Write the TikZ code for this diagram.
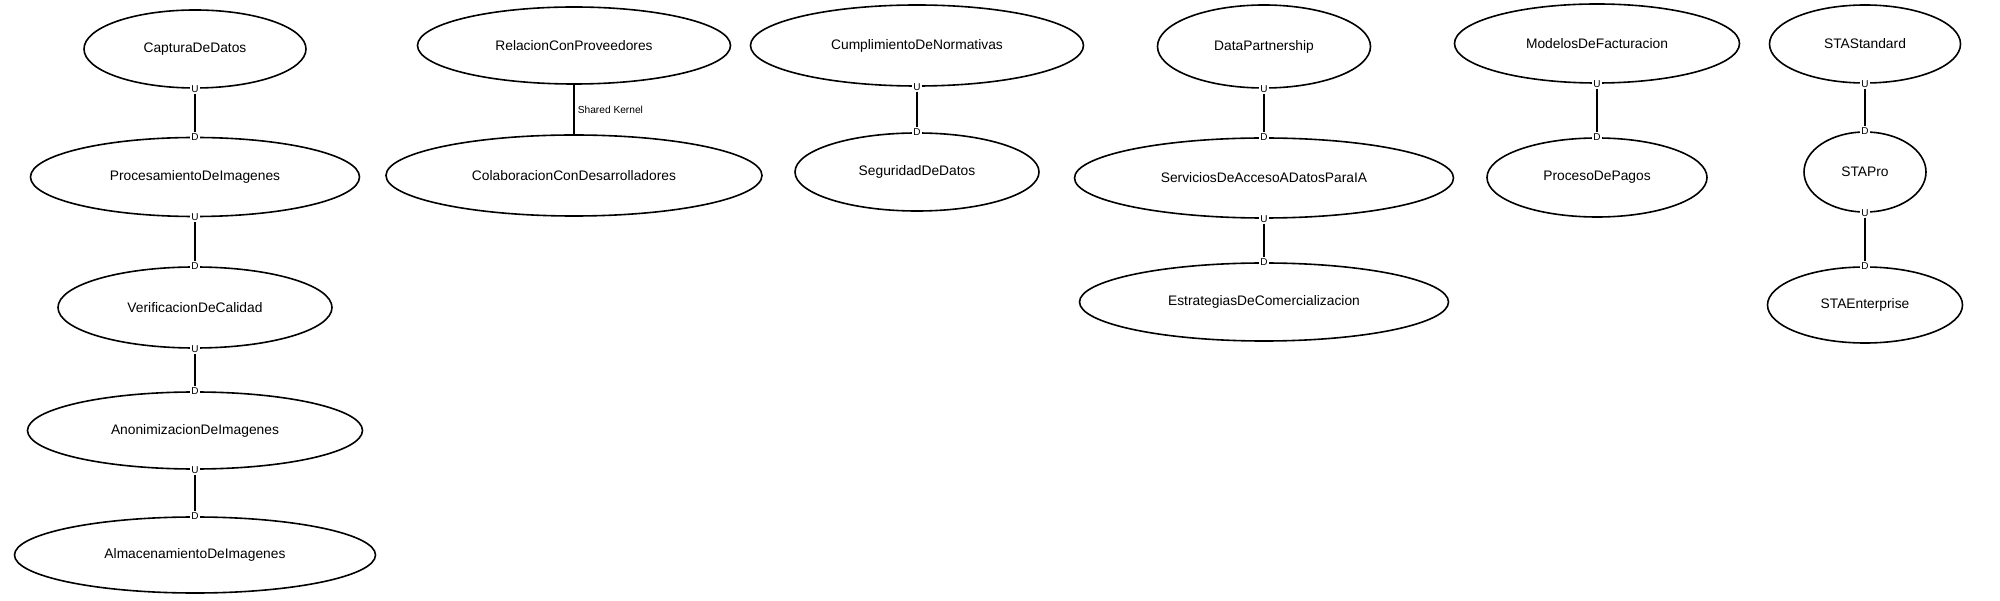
\documentclass[tikz,border=0pt]{standalone}
\usepackage{fontspec}
\setmainfont{Liberation Sans}
\usetikzlibrary{shapes.geometric}

\begin{document}
\begin{tikzpicture}[x=1pt,y=-1pt]

    \tikzset{context/.style = {shape=ellipse,draw,line width=1.6pt,inner sep=0pt,font=\fontsize{13.8}{16}\selectfont}}
    \tikzset{role/.style = {fill=white,inner sep=1.2pt,font=\fontsize{10}{11}\selectfont}}
    \tikzset{rel/.style = {-,line width=1.6pt}}
    \useasboundingbox (0,0) rectangle (2000,601);
    \node[context,minimum width=222pt,minimum height=78pt] (CD) at (195,49) {CapturaDeDatos};
    \node[context,minimum width=329pt,minimum height=79pt] (PI) at (195,177) {ProcesamientoDeImagenes};
    \node[context,minimum width=274pt,minimum height=81pt] (VC) at (195,307.5) {VerificacionDeCalidad};
    \node[context,minimum width=335pt,minimum height=77pt] (AI) at (195,430.5) {AnonimizacionDeImagenes};
    \node[context,minimum width=361pt,minimum height=76pt] (AL) at (195,555) {AlmacenamientoDeImagenes};
    \node[context,minimum width=313pt,minimum height=77pt] (RP) at (574,45.5) {RelacionConProveedores};
    \node[context,minimum width=376pt,minimum height=81pt] (CO) at (574,175.5) {ColaboracionConDesarrolladores};
    \node[context,minimum width=333pt,minimum height=81pt] (CN) at (917,45.5) {CumplimientoDeNormativas};
    \node[context,minimum width=244pt,minimum height=78pt] (SD) at (917,172) {SeguridadDeDatos};
    \node[context,minimum width=213pt,minimum height=83pt] (DP) at (1264,46.5) {DataPartnership};
    \node[context,minimum width=379pt,minimum height=80pt] (SA) at (1264,178) {ServiciosDeAccesoADatosParaIA};
    \node[context,minimum width=369pt,minimum height=78pt] (EC) at (1264,302) {EstrategiasDeComercializacion};
    \node[context,minimum width=285pt,minimum height=79pt] (MF) at (1597,43.5) {ModelosDeFacturacion};
    \node[context,minimum width=220pt,minimum height=79pt] (PP) at (1597,177.5) {ProcesoDePagos};
    \node[context,minimum width=191pt,minimum height=78pt] (SS) at (1865,44) {STAStandard};
    \node[context,minimum width=122pt,minimum height=80pt] (SP) at (1865,172) {STAPro};
    \node[context,minimum width=195pt,minimum height=76pt] (SE) at (1865,305) {STAEnterprise};
    %upstream / downstream ends
    \node[role] (CDu) at (CD.south) {U};
    \node[role] (PId) at (PI.north) {D};
    \node[role] (PIu) at (PI.south) {U};
    \node[role] (VCd) at (VC.north) {D};
    \node[role] (VCu) at (VC.south) {U};
    \node[role] (AId) at (AI.north) {D};
    \node[role] (AIu) at (AI.south) {U};
    \node[role] (ALd) at (AL.north) {D};
    \node[role] (CNu) at (CN.south) {U};
    \node[role] (SDd) at (SD.north) {D};
    \node[role] (DPu) at (DP.south) {U};
    \node[role] (SAd) at (SA.north) {D};
    \node[role] (SAu) at (SA.south) {U};
    \node[role] (ECd) at (EC.north) {D};
    \node[role] (MFu) at (MF.south) {U};
    \node[role] (PPd) at (PP.north) {D};
    \node[role] (SSu) at (SS.south) {U};
    \node[role] (SPd) at (SP.north) {D};
    \node[role] (SPu) at (SP.south) {U};
    \node[role] (SEd) at (SE.north) {D};
    %edges
    \draw[rel] (CDu) to (PId);
    \draw[rel] (PIu) to (VCd);
    \draw[rel] (VCu) to (AId);
    \draw[rel] (AIu) to (ALd);
    \draw[rel] (CNu) to (SDd);
    \draw[rel] (DPu) to (SAd);
    \draw[rel] (SAu) to (ECd);
    \draw[rel] (MFu) to (PPd);
    \draw[rel] (SSu) to (SPd);
    \draw[rel] (SPu) to (SEd);
    \draw[rel] (RP) to node[right,inner sep=3pt,font=\fontsize{10.2}{11}\selectfont] {Shared Kernel} (CO);
\end{tikzpicture}
\end{document}
